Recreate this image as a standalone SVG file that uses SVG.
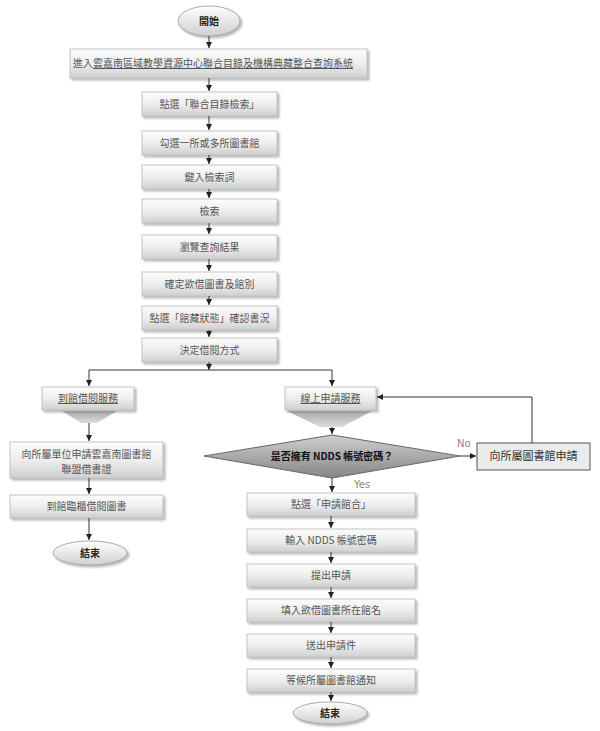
<svg xmlns="http://www.w3.org/2000/svg" width="600" height="731" viewBox="0 0 600 731">
<defs>
<linearGradient id="gBox" x1="0" y1="0" x2="0" y2="1">
<stop offset="0" stop-color="#fcfcfc"/>
<stop offset="0.5" stop-color="#eeeeee"/>
<stop offset="1" stop-color="#cfcfcf"/>
</linearGradient>
<linearGradient id="gOval" x1="0" y1="0" x2="0" y2="1">
<stop offset="0" stop-color="#ffffff"/>
<stop offset="1" stop-color="#d0d0d0"/>
</linearGradient>
<linearGradient id="gDia" x1="0" y1="0" x2="0" y2="1">
<stop offset="0" stop-color="#cfcfcf"/>
<stop offset="1" stop-color="#858585"/>
</linearGradient>
<linearGradient id="gFun" x1="0" y1="0" x2="0" y2="1">
<stop offset="0" stop-color="#a8a8a8"/>
<stop offset="1" stop-color="#dcdcdc"/>
</linearGradient>
<filter id="sh" x="-10%" y="-20%" width="125%" height="160%">
<feDropShadow dx="2" dy="2" stdDeviation="1.2" flood-color="#888" flood-opacity="0.6"/>
</filter>
<marker id="ar" markerUnits="userSpaceOnUse" markerWidth="7" markerHeight="7" refX="6" refY="3.5" orient="auto">
<path d="M0,0.5 L6,3.5 L0,6.5 Z" fill="#222"/>
</marker>
</defs>
<style>
.box{fill:url(#gBox);stroke:#c4c4c4;stroke-width:1;filter:url(#sh)}
.oval{fill:url(#gOval);stroke:#aaa;stroke-width:1;filter:url(#sh)}
.t{font-family:"Noto Sans CJK TC","Noto Sans CJK SC",sans-serif;font-size:10px;fill:#555;text-anchor:middle}
.b{font-weight:bold;fill:#222}
.u{text-decoration:underline}
.c{fill:none;stroke:#333;stroke-width:1;marker-end:url(#ar)}
.l{fill:none;stroke:#333;stroke-width:1}
.lbl{font-family:"DejaVu Sans",sans-serif;font-size:10px;fill:#888}
</style>

<g id="start">
<ellipse class="oval" cx="209" cy="21" rx="31" ry="15"/>
<text class="t b" x="209" y="25">開始</text>
</g>
<g id="n1">
<rect class="box" x="70" y="49" width="297" height="29"/>
<text class="t" x="213" y="67">進入<tspan class="u">雲嘉南區域教學資源中心聯合目錄及機構典藏整合查詢系統</tspan></text>
</g>
<g id="n2">
<rect class="box" x="142" y="92" width="135" height="24"/>
<text class="t" x="209.5" y="107.5">點選「聯合目錄檢索」</text>
</g>
<g id="n3">
<rect class="box" x="142" y="131" width="135" height="24"/>
<text class="t" x="209.5" y="146.5">勾選一所或多所圖書館</text>
</g>
<g id="n4">
<rect class="box" x="142" y="165" width="135" height="24"/>
<text class="t" x="209.5" y="180.5">鍵入檢索詞</text>
</g>
<g id="n5">
<rect class="box" x="142" y="199" width="135" height="24"/>
<text class="t" x="209.5" y="214.5">檢索</text>
</g>
<g id="n6">
<rect class="box" x="142" y="235" width="135" height="24"/>
<text class="t" x="209.5" y="250.5">瀏覽查詢結果</text>
</g>
<g id="n7">
<rect class="box" x="142" y="272" width="135" height="24"/>
<text class="t" x="209.5" y="287.5">確定欲借圖書及館別</text>
</g>
<g id="n8">
<rect class="box" x="142" y="306" width="135" height="24"/>
<text class="t" x="209.5" y="321.5">點選「館藏狀態」確認書況</text>
</g>
<g id="n9">
<rect class="box" x="142" y="338" width="135" height="24"/>
<text class="t" x="209.5" y="353.5">決定借閱方式</text>
</g>

<g id="left1">
<polygon points="62,411 117,411 97,423 81,423" fill="url(#gFun)"/>
<rect class="box" x="42" y="387" width="92" height="23"/>
<text class="t u" x="88" y="402">到館借閱服務</text>
</g>
<g id="left2">
<rect class="box" x="10" y="442" width="153" height="36"/>
<text class="t" x="86.5" y="458">向所屬單位申請雲嘉南圖書館</text>
<text class="t" x="86.5" y="473">聯盟借書證</text>
</g>
<g id="left3">
<rect class="box" x="10" y="495" width="153" height="23"/>
<text class="t" x="86.5" y="510">到館臨櫃借閱圖書</text>
</g>
<g id="end1">
<ellipse class="oval" cx="90" cy="553" rx="37" ry="12"/>
<text class="t b" x="90" y="557">結束</text>
</g>

<g id="right1">
<polygon points="287,411 372,411 342,427 320,427" fill="url(#gFun)"/>
<rect class="box" x="285" y="387" width="91" height="23"/>
<text class="t u" x="330.5" y="402">線上申請服務</text>
</g>
<g id="decision">
<polygon points="332,435 460,456 332,478 204,456" fill="url(#gDia)" stroke="#666" stroke-width="1"/>
<text class="t b" x="332" y="460" style="fill:#111">是否擁有 NDDS 帳號密碼？</text>
</g>
<g id="apply">
<rect x="477" y="443" width="113" height="27" fill="#ebebeb" stroke="#555" stroke-width="1"/>
<text class="t" x="533.5" y="460" style="font-size:11px;fill:#333">向所屬圖書館申請</text>
</g>
<g id="r2">
<rect class="box" x="247" y="493" width="168" height="23"/>
<text class="t" x="331" y="508">點選「申請館合」</text>
</g>
<g id="r3">
<rect class="box" x="247" y="529" width="168" height="23"/>
<text class="t" x="331" y="544">輸入 NDDS 帳號密碼</text>
</g>
<g id="r4">
<rect class="box" x="247" y="564" width="168" height="23"/>
<text class="t" x="331" y="579">提出申請</text>
</g>
<g id="r5">
<rect class="box" x="247" y="599" width="168" height="23"/>
<text class="t" x="331" y="614">填入欲借圖書所在館名</text>
</g>
<g id="r6">
<rect class="box" x="247" y="634" width="168" height="23"/>
<text class="t" x="331" y="649">送出申請件</text>
</g>
<g id="r7">
<rect class="box" x="247" y="669" width="168" height="23"/>
<text class="t" x="331" y="684">等候所屬圖書館通知</text>
</g>
<g id="end2">
<ellipse class="oval" cx="330" cy="713" rx="37" ry="11"/>
<text class="t b" x="330" y="717">結束</text>
</g>

<g id="connectors">
<path class="c" d="M209,36 V48"/>
<path class="c" d="M209,78 V91"/>
<path class="c" d="M209,116 V130"/>
<path class="c" d="M209,155 V164"/>
<path class="c" d="M209,189 V198"/>
<path class="c" d="M209,223 V234"/>
<path class="c" d="M209,259 V271"/>
<path class="c" d="M209,296 V305"/>
<path class="c" d="M209,330 V337"/>
<path class="c" d="M209,362 V370"/>
<path class="l" d="M89,370 H332"/>
<path class="c" d="M89,370 V386"/>
<path class="c" d="M332,370 V386"/>
<path class="c" d="M89,423 V441"/>
<path class="c" d="M89,478 V494"/>
<path class="c" d="M89,518 V540"/>
<path class="c" d="M332,427 V434"/>
<path class="c" d="M332,478 V492"/>
<path class="c" d="M331,516 V528"/>
<path class="c" d="M331,552 V563"/>
<path class="c" d="M331,587 V598"/>
<path class="c" d="M331,622 V633"/>
<path class="c" d="M331,657 V668"/>
<path class="c" d="M331,692 V701"/>
<path class="c" d="M460,456 H476"/>
<path class="c" d="M532,443 V397 H377"/>
<text class="lbl" x="457" y="447">No</text>
<text class="lbl" x="354" y="488">Yes</text>
</g>
</svg>
